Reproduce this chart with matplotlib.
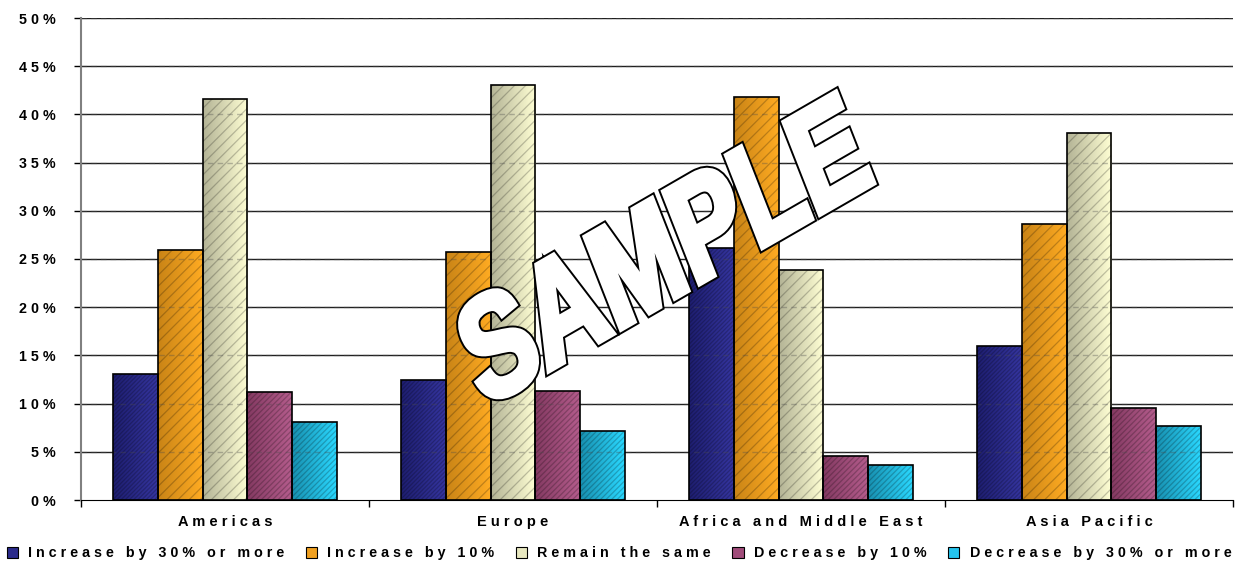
import numpy as np
import matplotlib
matplotlib.use('Agg')
from matplotlib import pyplot as plt
from matplotlib.textpath import TextPath
from matplotlib.font_manager import FontProperties
from matplotlib.patches import PathPatch, Patch
from matplotlib.colors import LinearSegmentedColormap
import matplotlib.transforms as mtransforms

regions = ["Americas", "Europe", "Africa and Middle East", "Asia Pacific"]
series_names = ["Increase by 30% or more", "Increase by 10%", "Remain the same",
                "Decrease by 10%", "Decrease by 30% or more"]
inc30 = [13.1, 12.4, 26.1, 16.0]
inc10 = [25.9, 25.7, 41.8, 28.6]
same = [41.6, 43.1, 23.9, 38.1]
dec10 = [11.2, 11.3, 4.6, 9.5]
dec30 = [8.1, 7.2, 3.6, 7.7]
yticks = [0, 5, 10, 15, 20, 25, 30, 35, 40, 45, 50]

# left (shaded) / right (bright) colours of each series, hatch pattern
styles = [
    ("#1e1e70", "#3535a0", "////////"),
    ("#c98416", "#ffab22", "///"),
    ("#b4b496", "#ffffd4", "///"),
    ("#843a62", "#b45c8c", "//////"),
    ("#1890b0", "#2ad8ff", "//////"),
]
mid_colors = ["#2b2b8b", "#f0a020", "#e8e8c0", "#a04c7a", "#24c4ee"]


def spaced(s):
    return ' '.join(s)


plt.rcParams['font.family'] = ['Liberation Sans', 'DejaVu Sans']
plt.rcParams['hatch.linewidth'] = 0.9

fig = plt.figure(figsize=(12.38, 5.63), dpi=100)
ax = fig.add_axes([81 / 1238, 63 / 563, 1152 / 1238, 482 / 563])

data = [inc30, inc10, same, dec10, dec30]
x = np.arange(len(regions))
w = 0.155

for yv in yticks[1:]:
    ax.axhline(yv, color='#202020', lw=1, zorder=0)

for i, vals in enumerate(data):
    c0, c1, hatch = styles[i]
    cmap = LinearSegmentedColormap.from_list("g%d" % i, [c0, c1])
    xs = x + (i - 2) * w
    outline = ax.bar(xs, vals, w, fill=False, edgecolor='black', lw=1.2, zorder=4)
    for b in outline:
        x0 = b.get_x()
        h = b.get_height()
        im = ax.imshow(np.linspace(0, 1, 64).reshape(1, -1), extent=[x0, x0 + w, 0, h],
                       cmap=cmap, aspect='auto', zorder=2, interpolation='bilinear')
        im.set_clip_path(b)
    ax.bar(xs, vals, w, color='none', edgecolor=(0, 0, 0, 0.22), hatch=hatch, lw=0, zorder=3)

# grid lines seen through the bars
for yv in yticks[1:]:
    ax.axhline(yv, color=(0.3, 0.3, 0.3, 0.35), lw=1, ls=(0, (4, 3)), zorder=3.5)

ax.set_xlim(-0.5, 3.5)
ax.set_ylim(0, 50)
ax.set_yticks(yticks)
ax.set_yticklabels([spaced("%d%%" % v) for v in yticks], fontsize=10.3, fontweight='bold')
ax.set_xticks(x)
ax.set_xticklabels([spaced(r) for r in regions], fontsize=10.5, fontweight='bold')
ax.set_xticks([-0.5, 0.5, 1.5, 2.5, 3.5], minor=True)
ax.tick_params(axis='x', which='major', length=0, pad=11)
ax.tick_params(axis='x', which='minor', length=5, width=1, direction='out')
ax.tick_params(axis='y', length=5, width=1, direction='out', pad=13)
for s in ['top', 'right']:
    ax.spines[s].set_visible(False)
ax.spines['left'].set_color('#808080')
ax.spines['left'].set_linewidth(1.5)
ax.spines['left'].set_zorder(5)
ax.spines['bottom'].set_color('black')
ax.spines['bottom'].set_zorder(5)

handles = [Patch(facecolor=c, edgecolor='black', lw=0.8) for c in mid_colors]
fig.legend(handles, [spaced(n) for n in series_names], loc='lower center',
           bbox_to_anchor=(0.5, -0.018), ncol=5, frameon=False,
           handlelength=0.8, handleheight=0.8, handletextpad=0.7, columnspacing=1.5,
           prop=FontProperties(family='Liberation Sans', weight='bold', size=10.3))

# SAMPLE watermark, slanted, condensed and heavy
fp = FontProperties(family='Liberation Sans', weight='bold')
tp = TextPath((0, 0), "SAMPLE", size=1, prop=fp)
ext = tp.get_extents()
sx = 446 / ext.width
sy = 102 / 0.716
u = (0.866, 0.5)
v = (-0.365, 0.931)
p0 = (487, 563 - 406)
M = np.array([[u[0] * sx, v[0] * sy, p0[0] - u[0] * sx * ext.x0],
              [u[1] * sx, v[1] * sy, p0[1] - u[1] * sx * ext.x0],
              [0, 0, 1]])
tr = mtransforms.Affine2D(M)
fig.add_artist(PathPatch(tp, facecolor='black', edgecolor='black', lw=7.2,
                         joinstyle='miter', transform=tr, zorder=10))
fig.add_artist(PathPatch(tp, facecolor='white', edgecolor='white', lw=4.4,
                         joinstyle='miter', transform=tr, zorder=11))

fig.savefig('out.png', dpi=100, facecolor='white')
